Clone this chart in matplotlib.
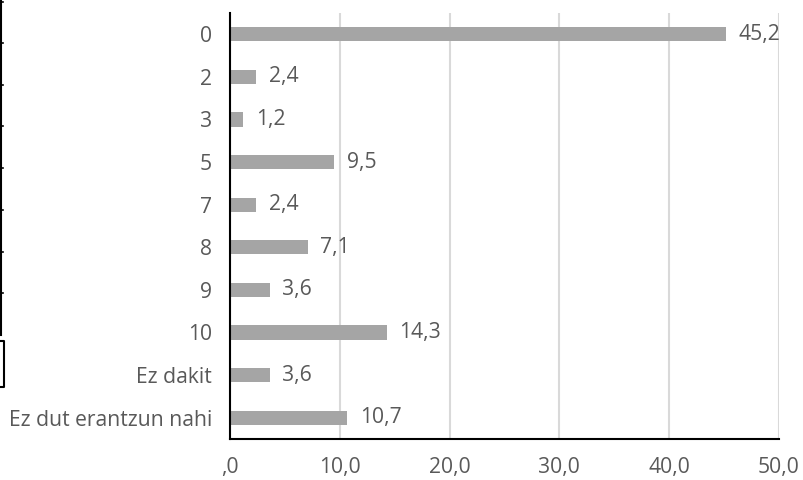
import matplotlib
matplotlib.use("Agg")
import matplotlib.pyplot as plt
from matplotlib.lines import Line2D

categories = ["0", "2", "3", "5", "7", "8", "9", "10", "Ez dakit", "Ez dut erantzun nahi"]
values = [45.2, 2.4, 1.2, 9.5, 2.4, 7.1, 3.6, 14.3, 3.6, 10.7]
xticks = [0, 10, 20, 30, 40, 50]
xtick_labels = [",0", "10,0", "20,0", "30,0", "40,0", "50,0"]

plt.rcParams['font.family'] = ['Open Sans', 'DejaVu Sans']
text_color = "#595959"
fs = 15.2

fig = plt.figure(figsize=(8.04, 4.8), dpi=100)
ax = fig.add_axes([230/804, 1 - 439/480, (779 - 230)/804, (439 - 13)/480])

y = list(range(len(categories)))
ax.barh(y, values, height=0.33, color="#A5A5A5", zorder=3)
ax.set_ylim(len(categories) - 0.5, -0.5)
ax.set_xlim(0, 50)
ax.set_yticks(y)
ax.set_yticklabels(categories, fontsize=fs, color=text_color)
ax.set_xticks(xticks)
ax.set_xticklabels(xtick_labels, fontsize=fs, color=text_color)
ax.tick_params(axis='both', length=0)
ax.tick_params(axis='y', pad=13)
ax.tick_params(axis='x', pad=13)
ax.grid(axis='x', color="#D9D9D9", linewidth=1.5, zorder=0)
for s in ["top", "right"]:
    ax.spines[s].set_visible(False)
for s in ["left", "bottom"]:
    ax.spines[s].set_color("black")
    ax.spines[s].set_linewidth(1.5)
    ax.spines[s].set_zorder(4)

for yi, v in zip(y, values):
    ax.annotate(f"{v:.1f}".replace(".", ","), (v, yi), xytext=(9, 0),
                textcoords="offset points", va="center", ha="left",
                fontsize=fs, color=text_color)

# cropping artifact at the left edge
def px(x, yy):
    return x / 804, 1 - yy / 480
tf = fig.transFigure
fig.add_artist(Line2D([px(1.5, 0)[0], px(1.5, 335)[0]], [px(1.5, 0)[1], px(1.5, 335)[1]],
                      transform=tf, color="black", lw=1.5))
for ty in [2, 43, 85, 126, 168, 210, 252, 293]:
    fig.add_artist(Line2D([px(0, ty)[0], px(3.5, ty)[0]], [px(0, ty)[1], px(3.5, ty)[1]],
                          transform=tf, color="black", lw=1.2))
fig.add_artist(Line2D([px(0, 341)[0], px(4, 341)[0], px(4, 387)[0], px(0, 387)[0]],
                      [px(0, 341)[1], px(4, 341)[1], px(4, 387)[1], px(0, 387)[1]],
                      transform=tf, color="black", lw=1.5))

fig.savefig("out.png", dpi=100)
